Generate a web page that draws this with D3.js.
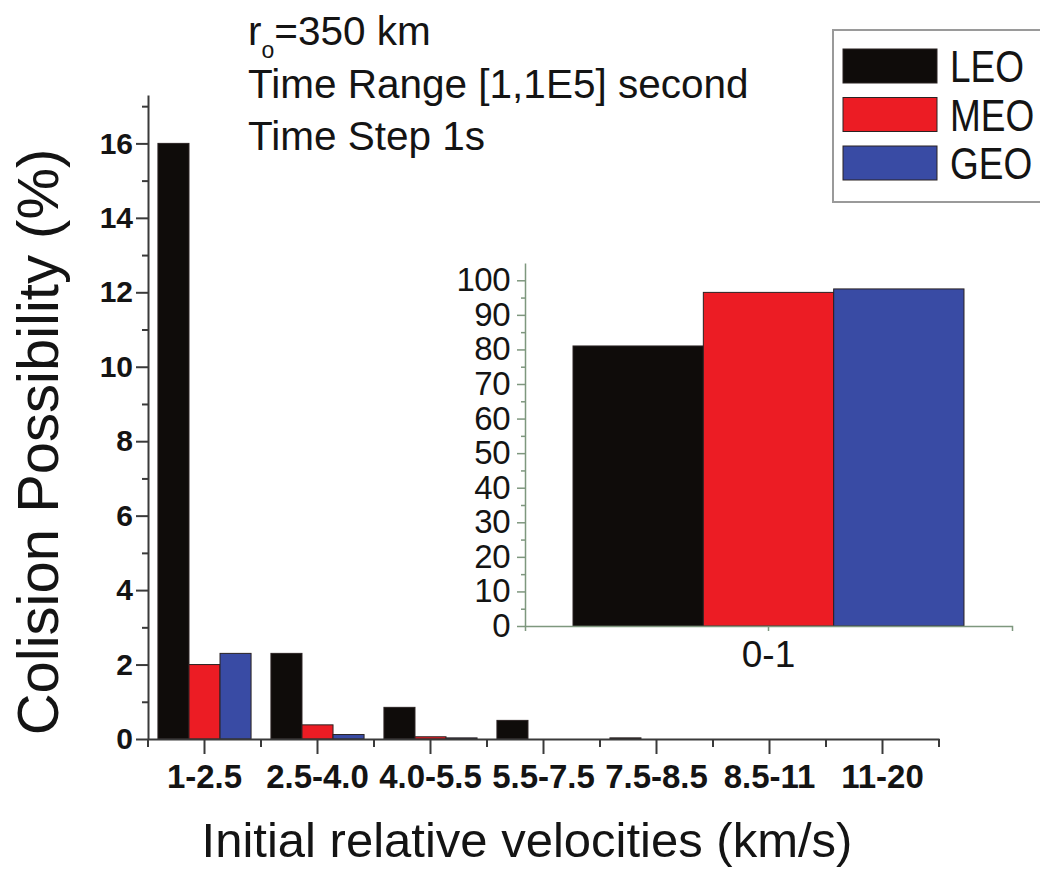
<!DOCTYPE html>
<html lang="en">
<head>
  <meta charset="UTF-8">
  <title>Collision possibility by relative velocity</title>
  <script src="https://d3js.org/d3.v7.min.js"></script>
  <style>
    body { margin: 0; background: #fff; }
    text { font-family: "Liberation Sans", Arial, sans-serif; fill: #141414; }
    .tick text { fill: #141414; }
    .main-axis path, .main-axis line { stroke: #3a3a3a; stroke-width: 2; }
    .inset-axis path, .inset-axis line { stroke: #7e977e; stroke-width: 1.5; }
  </style>
</head>
<body>
<div id="chart"></div>
<script>
  // ## Data
  const categories = ["1-2.5", "2.5-4.0", "4.0-5.5", "5.5-7.5", "7.5-8.5", "8.5-11", "11-20"];
  const seriesNames = ["LEO", "MEO", "GEO"];
  const seriesColors = ["#0f0c0a", "#ec1c24", "#394ba4"];
  const leoValues = [16, 2.3, 0.85, 0.5, 0.03, 0, 0];
  const meoValues = [2.0, 0.38, 0.06, 0, 0, 0, 0];
  const geoValues = [2.3, 0.12, 0.03, 0, 0, 0, 0];
  const yTicks = [0, 2, 4, 6, 8, 10, 12, 14, 16];
  const yMinorTicks = [1, 3, 5, 7, 9, 11, 13, 15, 17];

  const insetCategories = ["0-1"];
  const insetValues = [81, 96.5, 97.5];   // LEO, MEO, GEO
  const insetTicks = [0, 10, 20, 30, 40, 50, 60, 70, 80, 90, 100];
  const insetMinorTicks = [5, 15, 25, 35, 45, 55, 65, 75, 85, 95];

  const noteLines = ["Time Range [1,1E5] second", "Time Step 1s"];

  function drawChart() {

    // ## Dimensions
    let dimensions = {
      width: 1040,
      height: 870,
      margin: {top: 95, right: 101, bottom: 131, left: 148}
    }
    dimensions.boundedWidth = dimensions.width - dimensions.margin.left - dimensions.margin.right
    dimensions.boundedHeight = dimensions.height - dimensions.margin.top - dimensions.margin.bottom

    const svg = d3.select("#chart")
      .append("svg")
        .attr("width", dimensions.width)
        .attr("height", dimensions.height)

    const bounds = svg.append("g")
        .attr("transform", `translate(${dimensions.margin.left},${dimensions.margin.top})`)

    const seriesValues = [leoValues, meoValues, geoValues]
    const rows = categories.flatMap((c, i) =>
      seriesNames.map((s, j) => ({cat: c, series: s, value: seriesValues[j][i], color: seriesColors[j]})))
      .filter(d => d.value > 0)

    // ## Scales
    const xScale = d3.scaleBand()
        .domain(categories)
        .range([0, dimensions.boundedWidth])
        .padding(0)

    const subScale = d3.scaleBand()
        .domain(seriesNames)
        .range([0, xScale.bandwidth()])
        .paddingOuter(0.32)

    const yScale = d3.scaleLinear()
        .domain([0, 17.3])
        .range([dimensions.boundedHeight, 0])

    // ## Bars
    bounds.selectAll(".bar")
      .data(rows)
      .join("rect")
        .attr("class", "bar")
        .attr("x", d => xScale(d.cat) + subScale(d.series))
        .attr("y", d => yScale(d.value))
        .attr("width", subScale.bandwidth())
        .attr("height", d => dimensions.boundedHeight - yScale(d.value))
        .attr("fill", d => d.color)
        .attr("stroke", "#2a2222")
        .attr("stroke-width", 1)

    // ## Axes
    const yAxis = bounds.append("g")
        .attr("class", "main-axis")
        .call(d3.axisLeft(yScale)
          .tickValues(yTicks)
          .tickSize(12)
          .tickSizeOuter(0)
          .tickPadding(3))
    yAxis.selectAll(".tick text")
        .style("font-size", "30px")
        .style("font-weight", "bold")

    bounds.append("g")
        .attr("class", "main-axis")
        .call(d3.axisLeft(yScale)
          .tickValues(yMinorTicks)
          .tickSize(6)
          .tickSizeOuter(0)
          .tickFormat(""))
        .call(g => g.select(".domain").remove())

    const xAxis = bounds.append("g")
        .attr("class", "main-axis")
        .attr("transform", `translate(0,${dimensions.boundedHeight})`)
        .call(d3.axisBottom(xScale)
          .tickSize(15)
          .tickSizeOuter(0)
          .tickPadding(11))
    xAxis.selectAll(".tick text")
        .style("font-size", "33px")
        .style("font-weight", "bold")

    // minor ticks on the category boundaries
    xAxis.selectAll(".minor")
      .data([...categories.map(c => xScale(c)), dimensions.boundedWidth])
      .join("line")
        .attr("class", "minor")
        .attr("x1", d => d).attr("x2", d => d)
        .attr("y1", 0).attr("y2", 8)

    // axis titles
    bounds.append("text")
        .attr("transform", `translate(-90,${dimensions.boundedHeight / 2 + 25}) rotate(-90)`)
        .attr("text-anchor", "middle")
        .style("font-size", "58px")
        .text("Colision Possibility (%)")

    bounds.append("text")
        .attr("x", 379)
        .attr("y", 762)
        .attr("text-anchor", "middle")
        .style("font-size", "49px")
        .text("Initial relative velocities (km/s)")

    // ## Inset (0-1 km/s)
    const inset = {left: 525, top: 263, width: 487, height: 363}
    const insetG = svg.append("g")
        .attr("transform", `translate(${inset.left},${inset.top})`)

    const insetX = d3.scaleBand()
        .domain(insetCategories)
        .range([0, inset.width])
        .paddingOuter(0.1228)

    const insetSub = d3.scaleBand()
        .domain(seriesNames)
        .range([0, insetX.bandwidth()])

    const insetY = d3.scaleLinear()
        .domain([0, 105])
        .range([inset.height, 0])

    insetG.selectAll(".inset-bar")
      .data(seriesNames.map((s, j) => ({series: s, value: insetValues[j], color: seriesColors[j]})))
      .join("rect")
        .attr("class", "inset-bar")
        .attr("x", d => insetX("0-1") + insetSub(d.series))
        .attr("y", d => insetY(d.value))
        .attr("width", insetSub.bandwidth())
        .attr("height", d => inset.height - insetY(d.value))
        .attr("fill", d => d.color)
        .attr("stroke", "#2a2222")
        .attr("stroke-width", 1)

    const insetYAxis = insetG.append("g")
        .attr("class", "inset-axis")
        .call(d3.axisLeft(insetY)
          .tickValues(insetTicks)
          .tickSize(8)
          .tickSizeOuter(0)
          .tickPadding(7))
    insetYAxis.selectAll(".tick text")
        .style("font-size", "33px")
        .style("letter-spacing", "-0.5px")

    insetG.append("g")
        .attr("class", "inset-axis")
        .call(d3.axisLeft(insetY)
          .tickValues(insetMinorTicks)
          .tickSize(4)
          .tickFormat(""))
        .call(g => g.select(".domain").remove())

    const insetXAxis = insetG.append("g")
        .attr("class", "inset-axis")
        .attr("transform", `translate(0,${inset.height})`)
        .call(d3.axisBottom(insetX)
          .tickSize(5)
          .tickSizeOuter(5)
          .tickPadding(10))
    insetXAxis.selectAll(".tick text")
        .style("font-size", "37px")

    // ## Notes
    const note = svg.append("text")
        .attr("x", 248)
        .attr("y", 45)
        .style("font-size", "40.5px")
    note.append("tspan").text("r")
    note.append("tspan").attr("dy", 13).style("font-size", "23px").text("o")
    note.append("tspan").attr("dy", -13).text("=350 km")

    svg.selectAll(".note-line")
      .data(noteLines)
      .join("text")
        .attr("class", "note-line")
        .attr("x", 248)
        .attr("y", (d, i) => 98 + i * 52)
        .style("font-size", "40.5px")
        .text(d => d)

    // ## Legend
    const legend = svg.append("g")
        .attr("transform", "translate(833,30)")

    legend.append("rect")
        .attr("width", 230)
        .attr("height", 172)
        .attr("fill", "#fff")
        .attr("stroke", "#9a9a9a")
        .attr("stroke-width", 2)

    const items = legend.selectAll(".item")
      .data(seriesNames)
      .join("g")
        .attr("class", "item")
        .attr("transform", (d, i) => `translate(10,${19 + i * 48.5})`)

    items.append("rect")
        .attr("width", 94)
        .attr("height", 34)
        .attr("fill", (d, i) => seriesColors[i])
        .attr("stroke", "#2a2222")
        .attr("stroke-width", 1)

    // legend labels in the reference are drawn a little taller than wide
    items.append("text")
        .attr("transform", "translate(107,33) scale(1,1.18)")
        .style("font-size", "37px")
        .text(d => d)
  }

  drawChart()
</script>
</body>
</html>
